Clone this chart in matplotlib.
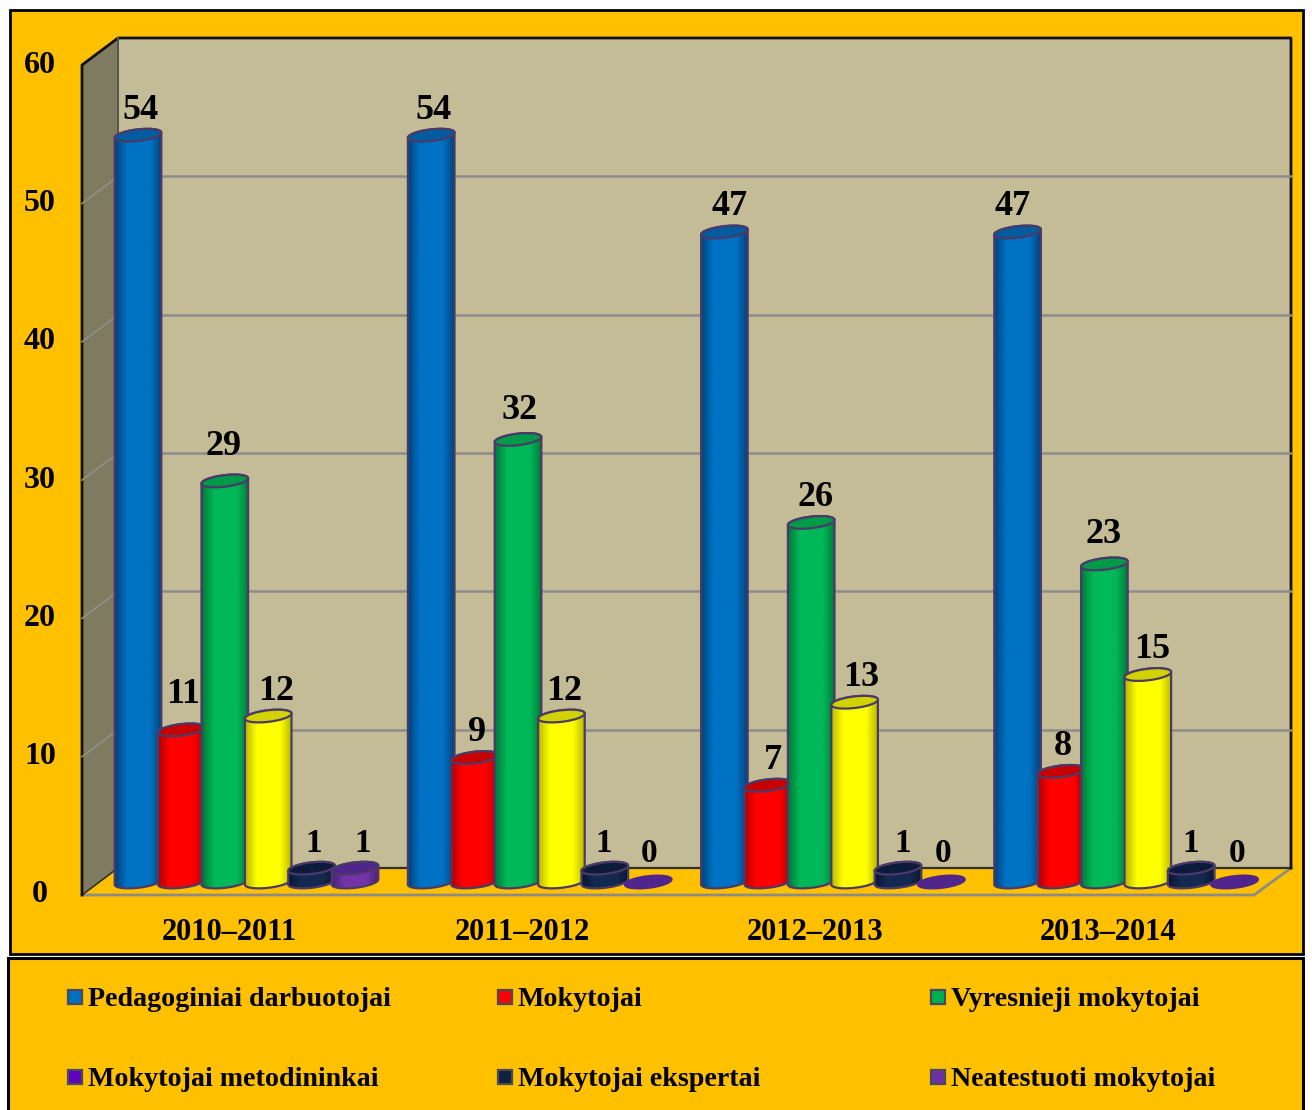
import numpy as np
import matplotlib
matplotlib.use('Agg')
import matplotlib.pyplot as plt
from matplotlib.colors import LinearSegmentedColormap
from matplotlib.patches import Polygon, Rectangle
from matplotlib.transforms import blended_transform_factory

years = ['2010–2011', '2011–2012', '2012–2013', '2013–2014']
pedagoginiai = [54, 54, 47, 47]
mokytojai = [11, 9, 7, 8]
vyresnieji = [29, 32, 26, 23]
metodininkai = [12, 12, 13, 15]
ekspertai = [1, 1, 1, 1]
neatestuoti = [1, 0, 0, 0]
series = [pedagoginiai, mokytojai, vyresnieji, metodininkai, ekspertai, neatestuoti]
yticks = [0, 10, 20, 30, 40, 50, 60]

legend_names = [['Pedagoginiai darbuotojai', 'Mokytojai', 'Vyresnieji mokytojai'],
                ['Mokytojai metodininkai', 'Mokytojai ekspertai', 'Neatestuoti mokytojai']]
legend_colors = [['#0070c0', '#ff0000', '#00b050'],
                 ['#6000c0', '#10203f', '#7030a0']]

# edge, centre and top colours of each cylinder
edge_cols = ['#00427a', '#b00000', '#007a3a', '#b8b800', '#0a1630', '#4a1f78']
mid_cols = ['#0072c4', '#ff0000', '#00b858', '#ffff00', '#14294f', '#7434a8']
top_cols = ['#005c9e', '#c80000', '#009a48', '#d2d200', '#0c1b3a', '#50258c']
outline = '#4b3a68'
font = 'Liberation Serif'

W, H = 1312, 1110
unit = 13.83   # pixels per value
y0 = 882
x0 = 138
group = 293.2
step = 43.4 / group
half = 23.3 / group

fig = plt.figure(figsize=(W / 100, H / 100), dpi=100, facecolor='white')

# pixel axes for the frame of the chart
bg = fig.add_axes([0, 0, 1, 1])
bg.set_xlim(0, W)
bg.set_ylim(H, 0)
bg.axis('off')

# value axes for the bars: x is the school year, y the number of people
ax = fig.add_axes([0, 0, 1, 1], facecolor='none')
xlim = (-x0 / group, (W - x0) / group)
ylim = ((y0 - H) / unit, y0 / unit)
ax.axis('off')
tr = blended_transform_factory(bg.transData, ax.transData)

bg.add_patch(Rectangle((10, 10), 1293, 944, fc='#ffc000', ec='black', lw=2))
bg.add_patch(Rectangle((8, 958), 1295, 170, fc='#ffc000', ec='black', lw=2.2))

# walls and floor
bg.add_patch(Polygon([(118, 38), (1291, 38), (1291, 868), (118, 868)], fc='#c4bc96', ec='none'))
bg.add_patch(Polygon([(82, 65), (118, 38), (118, 868), (82, 895)], fc='#7f7b60', ec='none'))
back = 14 / unit
front = 13 / unit
for t in yticks[1:-1]:
    ax.plot([118, 1291], [t + back, t + back], color='#8c8c8c', lw=1.8, transform=tr)
    ax.plot([82, 118], [t - front, t + back], color='#8f8f88', lw=1.2, transform=tr)
for t in yticks:
    ax.text(40, t - 13 / unit, str(t), transform=tr, ha='center', va='center',
            family=font, weight='bold', fontsize=23, color='black')
bg.plot([82, 1254, 1291], [895, 895, 868], color='#8c8c84', lw=2)
bg.plot([82, 118], [895, 868], color='#30302a', lw=1.2)
bg.plot([118, 1291], [868, 868], color='#303030', lw=1.6)
bg.plot([82, 82, 118, 1291, 1291], [895, 65, 38, 38, 868], color='#111111', lw=2)
bg.plot([118, 118], [38, 868], color='#55554a', lw=1.4)

# label nudges in pixels, (year, series), where a label sits off the usual spot
nudge_y = {(0, 1): 10, (0, 2): 9, (1, 2): 4, (3, 2): 4}
nudge_x = {(0, 0): 3, (1, 0): 2, (2, 0): 5, (3, 0): -5, (0, 2): -1, (1, 2): 2, (2, 2): 4, (3, 2): -1,
           (0, 3): 8, (1, 3): 3, (2, 3): 7, (3, 3): 4, (1, 4): -1, (3, 4): -1, (2, 4): 5, (0, 4): 2,
           (0, 5): 8, (1, 5): 1, (2, 5): 2, (3, 5): 2, (2, 1): 5}

t_full = np.linspace(0, 2 * np.pi, 80)
b = 5.8 / unit   # half height of the ellipse
k = 2.6 / unit   # tilt of the ellipse

for g in range(len(years)):
    for s, vals in enumerate(series):
        v = vals[g]
        xc = g + s * step
        z = 10 + g * 10 + s
        if v > 0:
            low = np.linspace(np.pi, 2 * np.pi, 40)
            high = np.linspace(0, np.pi, 40)
            body = np.vstack([
                np.column_stack([xc + half * np.cos(low), b * np.sin(low) + k * np.cos(low)]),
                np.column_stack([xc + half * np.cos(high), v + b * np.sin(high) + k * np.cos(high)]),
            ])
            poly = Polygon(body, closed=True, fc='none', ec=outline, lw=1.6, zorder=z + 0.2)
            ax.add_patch(poly)
            cmap = LinearSegmentedColormap.from_list(
                'c', [edge_cols[s], mid_cols[s], mid_cols[s], mid_cols[s], edge_cols[s]])
            im = ax.imshow(np.linspace(0, 1, 64).reshape(1, -1), cmap=cmap, aspect='auto',
                           extent=[xc - half, xc + half, -1, v + 1], zorder=z + 0.1,
                           interpolation='bilinear')
            im.set_clip_path(poly)
        top = np.column_stack([xc + half * np.cos(t_full),
                               v + b * np.sin(t_full) + k * np.cos(t_full)])
        ax.add_patch(Polygon(top, closed=True, fc=top_cols[s],
                             ec=outline if v > 0 else top_cols[s], lw=1.6, zorder=z + 0.3))
        up = (25 if v > 0 else 29) + nudge_y.get((g, s), 0)
        ax.text(xc + nudge_x.get((g, s), 2) / group, v + up / unit, str(v), ha='center', va='center',
                family=font, weight='bold', fontsize=26 if v > 1 else 24, color='black', zorder=100)

ax.set_xlim(xlim)
ax.set_ylim(ylim)

for g, year in enumerate(years):
    bg.text(229 + g * 293, 932, year, ha='center', va='center', family=font,
            weight='bold', fontsize=22, color='black')

legend_x = [75, 505, 938]
legend_y = [997, 1077]
for r, row in enumerate(legend_names):
    for c, name in enumerate(row):
        bg.add_patch(Rectangle((legend_x[c] - 7, legend_y[r] - 7), 14, 14,
                               fc=legend_colors[r][c], ec='#4a4a5c', lw=1.6))
        bg.text(legend_x[c] + 13, legend_y[r] + 2, name, ha='left', va='center', family=font,
                weight='bold', fontsize=20.2, color='black')

fig.savefig('out.png', dpi=100, facecolor='white')
